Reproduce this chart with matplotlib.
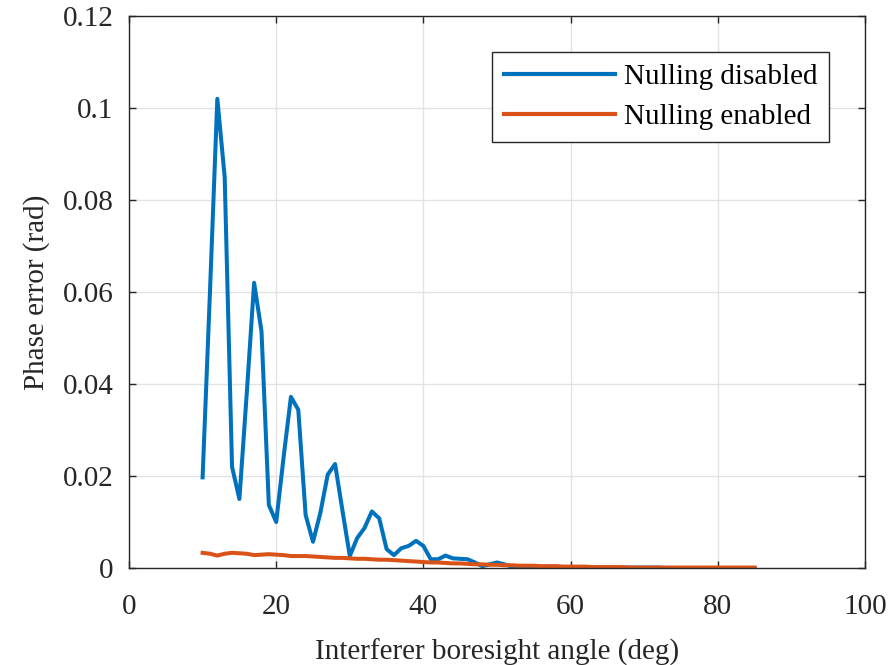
import matplotlib
matplotlib.use("Agg")
import matplotlib.pyplot as plt
import numpy as np

plt.rcParams['font.family'] = ['Liberation Serif', 'DejaVu Serif']
plt.rcParams['mathtext.fontset'] = 'stix'

# interferer angle (deg), 10..85 in 1 deg steps
angle = np.arange(10, 86)

# phase error without nulling (rad)
err_off = [0.0197, 0.060, 0.102, 0.085, 0.022, 0.015, 0.038, 0.062, 0.0515, 0.0137,
           0.010, 0.024, 0.0372, 0.0344, 0.0115, 0.0057, 0.012, 0.0203, 0.0226, 0.0125,
           0.0026, 0.0065, 0.0087, 0.0123, 0.0108, 0.0041, 0.0028, 0.0043, 0.0048, 0.0059,
           0.0048, 0.0019, 0.0019, 0.0027, 0.0021, 0.0020, 0.0019, 0.0012, 0.0004, 0.0008,
           0.0012, 0.0008, 0.0003, 0.0003, 0.0002, 0.0003, 0.0002, 0.0002, 0.0003, 0.0002,
           0.0002, 0.0001, 0.0001, 0.0001, 0.0001, 0.0001, 0.0001, 0.0001, 0.0001, 0.0001,
           0.0001, 0.0001, 0.0001, 0.0000, 0.0000, 0.0000, 0.0000, 0.0000, 0.0000, 0.0000,
           0.0000, 0.0000, 0.0000, 0.0000, 0.0000, 0.0000]

# phase error with nulling (rad)
err_on = [0.0033, 0.0031, 0.0027, 0.0031, 0.0033, 0.0032, 0.0031, 0.0028, 0.0029, 0.0030,
          0.0029, 0.0028, 0.0026, 0.0026, 0.0026, 0.0025, 0.0024, 0.0023, 0.0022, 0.0022,
          0.0021, 0.0020, 0.0020, 0.0019, 0.0018, 0.0018, 0.0017, 0.0016, 0.0015, 0.0014,
          0.0013, 0.0012, 0.0012, 0.0011, 0.0010, 0.0010, 0.0009, 0.0008, 0.0008, 0.0007,
          0.0007, 0.0006, 0.0006, 0.0005, 0.0005, 0.0005, 0.0004, 0.0004, 0.0004, 0.0003,
          0.0003, 0.0003, 0.0003, 0.0002, 0.0002, 0.0002, 0.0002, 0.0002, 0.0001, 0.0001,
          0.0001, 0.0001, 0.0001, 0.0001, 0.0001, 0.0001, 0.0001, 0.0001, 0.0001, 0.0001,
          0.0001, 0.0001, 0.0001, 0.0001, 0.0001, 0.0001]

fig = plt.figure(figsize=(8.91, 6.65), dpi=100)
ax = fig.add_axes([129 / 891, 1 - 568 / 665, 736 / 891, 552 / 665])

ax.plot(angle, err_off, color='#0072BD', lw=2.9, label='Nulling disabled')
ax.plot(angle, err_on, color='#D95319', lw=2.9, label='Nulling enabled')

ax.set_xlim(0, 100)
ax.set_ylim(0, 0.12)
ax.set_xticks(np.arange(0, 101, 20))
ax.set_yticks(np.arange(0, 0.121, 0.02))
ax.set_yticklabels(['0', '0.02', '0.04', '0.06', '0.08', '0.1', '0.12'])
ax.grid(True, color='#e3e3e3', lw=1)
ax.set_axisbelow(True)
ax.tick_params(direction='in', length=5, width=1, colors='#262626', labelsize=21,
               top=True, right=True)
ax.tick_params(axis='x', pad=19)
ax.tick_params(axis='y', pad=11)
for s in ax.spines.values():
    s.set_color('#262626')
    s.set_linewidth(1)

ax.set_xlabel('Interferer boresight angle (deg)', fontsize=21, color='#262626', labelpad=13)
ax.set_ylabel('Phase error (rad)', fontsize=21, color='#262626', labelpad=9)

leg = ax.legend(loc='upper right', bbox_to_anchor=(0.951, 0.935), borderaxespad=0,
                fontsize=21, handlelength=3.8, handletextpad=0.31, borderpad=0.4,
                labelspacing=0.48, fancybox=False, framealpha=1, edgecolor='#262626')
leg.get_frame().set_linewidth(1)
for h in leg.get_lines():
    h.set_linewidth(3)

fig.savefig('out.png', dpi=100)
